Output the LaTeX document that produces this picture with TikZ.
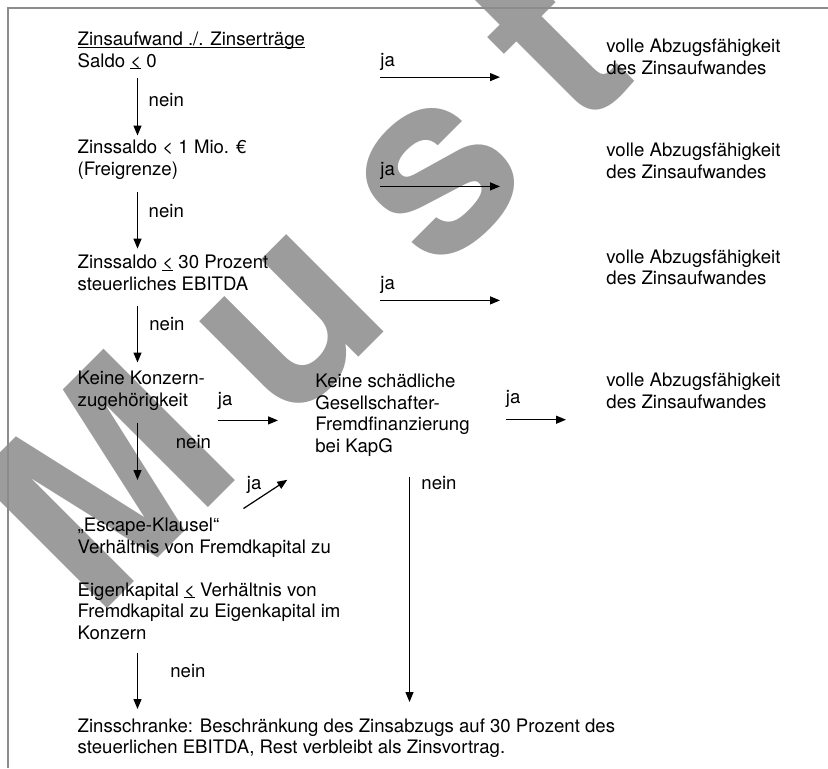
\documentclass[tikz,border=0pt]{standalone}
\usepackage{fontspec}
\setmainfont{TeX Gyre Heros}
\usetikzlibrary{positioning,arrows.meta}
\definecolor{stampgray}{HTML}{9C9C9C}
\definecolor{framegray}{HTML}{8C8C8C}
\newcommand{\ulin}[1]{\setbox0\hbox{#1}\rlap{\rule[-1.1pt]{\wd0}{0.45pt}}\box0\relax}
\tikzset{basic/.style={inner sep=0pt,font=\fontsize{9.3pt}{10.75pt}\selectfont}}
\tikzset{block/.style={basic,align=left,anchor=north west}}
\tikzset{answer/.style={basic,anchor=base west}}
\tikzset{stamp/.style={rotate=45,anchor=base,inner sep=0pt,text=stampgray,font=\bfseries\fontsize{127.5pt}{130pt}\selectfont}}
\tikzset{flow/.style={line width=0.6pt,-{Triangle[length=5pt,width=4pt]}}}

\begin{document}
\begin{tikzpicture}[x=0.5pt,y=-0.5pt]
        \useasboundingbox (0,0) rectangle (828,768);
        \node[stamp] (stampM) at (170.5,545.5) {M};
        \node[stamp] (stampU) at (342,374) {u};
        \node[stamp] (stampS) at (487.5,228.5) {s};
        \node[stamp] (stampT) at (610.5,105.5) {t};
        \draw[framegray,line width=1pt] (7.5,768) -- (7.5,8.3) -- (828,8.3);
        \node[block] (saldo) at (77.3,31.6) {\ulin{Zinsaufwand ./. Zinserträge}\\Saldo \ulin{<} 0};
        \node[block] (grenze) at (77.3,140) {Zinssaldo < 1 Mio. €\\(Freigrenze)};
        \node[block] (ebitda) at (77.3,254.6) {Zinssaldo \ulin{<} 30 Prozent\\steuerliches EBITDA};
        \node[block] (konzern) at (77.3,370.6) {Keine Konzern-\\zugehörigkeit};
        \node[block] (escape) at (77.3,517.6) {„Escape-Klausel“\\Verhältnis von Fremdkapital zu\\[10.75pt]Eigenkapital \ulin{<} Verhältnis von\\Fremdkapital zu Eigenkapital im\\Konzern};
        \node[block] (schranke) at (77.3,718) {Zinsschranke: Beschränkung des Zinsabzugs auf 30 Prozent des\\steuerlichen EBITDA, Rest verbleibt als Zinsvortrag.};
        \node[block] (gesell) at (315,373.6) {Keine schädliche\\Gesellschafter-\\Fremdfinanzierung\\bei KapG};
        \node[block] (voll1) at (606,38.6) {volle Abzugsfähigkeit\\des Zinsaufwandes};
        \node[block] (voll2) at (606,142.6) {volle Abzugsfähigkeit\\des Zinsaufwandes};
        \node[block] (voll3) at (606,249.1) {volle Abzugsfähigkeit\\des Zinsaufwandes};
        \node[block] (voll4) at (606,372.6) {volle Abzugsfähigkeit\\des Zinsaufwandes};
        \node[answer,text depth=5.1pt] (ja1) at (380,66.5) {ja};
        \node[answer,text depth=5.5pt] (ja2) at (380,175) {ja};
        \node[answer,text depth=5.5pt] (ja3) at (380,289) {ja};
        \node[answer,text depth=7.5pt] (ja4) at (217.5,405) {ja};
        \node[answer,text depth=8.15pt] (ja5) at (505.5,403) {ja};
        \node[answer] (ja6) at (246.5,489.5) {ja};
        \node[answer] (nein1) at (148.3,106.5) {nein};
        \node[answer] (nein2) at (148.3,217) {nein};
        \node[answer] (nein3) at (149,330.5) {nein};
        \node[answer] (nein4) at (175.5,448) {nein};
        \node[answer] (nein5) at (421,489.5) {nein};
        \node[answer] (nein6) at (170,677.5) {nein};
            \draw[flow,shorten <=3.95pt,shorten >=2.25pt] ([xshift=30.1pt]saldo.south west) -- ([xshift=30.1pt]grenze.north west);
            \draw[flow,shorten <=6pt,shorten >=3pt] ([xshift=30.1pt]grenze.south west) -- ([xshift=30.1pt]ebitda.north west);
            \draw[flow,shorten <=7.85pt,shorten >=4.05pt] ([xshift=30.1pt]ebitda.south west) -- ([xshift=30.1pt]konzern.north west);
            \draw[flow,shorten <=6pt,shorten >=18.8pt] ([xshift=30.1pt]konzern.south west) -- ([xshift=30.1pt]escape.north west);
            \draw[flow,shorten <=6.85pt,shorten >=4.5pt] ([xshift=30.1pt]escape.south west) -- ([xshift=30.1pt]schranke.north west);
            \draw[flow,shorten >=53pt] (ja1.south west) -- (ja1.south west -| voll1.west);
            \draw[flow,shorten >=53pt] (ja2.south west) -- (ja2.south west -| voll2.west);
            \draw[flow,shorten >=53pt] (ja3.south west) -- (ja3.south west -| voll3.west);
            \draw[flow,shorten >=18.5pt] (ja4.south west) -- (ja4.south west -| gesell.west);
            \draw[flow,shorten >=20pt] (ja5.south west) -- (ja5.south west -| voll4.west);
            \draw[flow] ([xshift=83.1pt,yshift=4.55pt]escape.north west) -- ([xshift=-13.85pt,yshift=-11.65pt]gesell.south west);
            \draw[flow,shorten <=10pt,shorten >=8pt] ([xshift=47.25pt]gesell.south west) -- ([xshift=166.1pt]schranke.north west);
\end{tikzpicture}
\end{document}
